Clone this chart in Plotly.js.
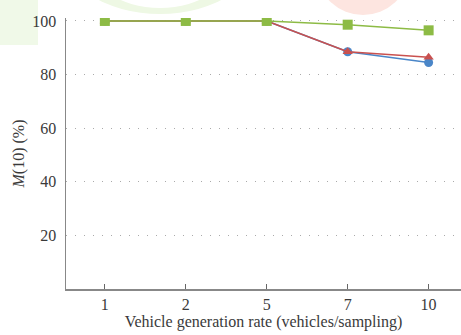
<!DOCTYPE html>
<html><head><meta charset="utf-8">
<script src="https://cdn.plot.ly/plotly-3.0.1.min.js"></script>
<style>html,body{margin:0;padding:0;background:#fff}#chart{width:461px;height:335px}</style>
</head><body><div id="chart"></div>
<script>
const categories = ['1','2','5','7','10'];
const seriesBlue = [100, 100, 100, 88.5, 84.5];
const seriesRed = [100, 100, 100, 88.5, 86.5];
const seriesGreen = [100, 100, 100, 98.6, 96.5];
const yTicks = [20, 40, 60, 80, 100];

const fam = 'Liberation Serif, Times New Roman, serif';
const txt = '#3a3a3a';
const traces = [
  {x: categories, y: seriesBlue, type: 'scatter', mode: 'lines+markers',
   line: {color: '#4a86c8', width: 1.5}, marker: {symbol: 'circle', size: 9, color: '#4a86c8'}},
  {x: categories, y: seriesRed, type: 'scatter', mode: 'lines+markers',
   line: {color: '#c9514f', width: 1.5}, marker: {symbol: 'triangle-up', size: 9, color: '#c9514f'}},
  {x: categories, y: seriesGreen, type: 'scatter', mode: 'lines+markers',
   line: {color: '#8dbb45', width: 1.5}, marker: {symbol: 'square', size: 10, color: '#8dbb45'}}
];
// faint background watermark blobs (pixel -> paper conversion)
const px = x => (x - 66) / 395, py = y => (289 - y) / 271;
const layout = {
  width: 461, height: 335,
  margin: {l: 66, r: 0, t: 18, b: 46},
  paper_bgcolor: '#fff', plot_bgcolor: 'rgba(0,0,0,0)',
  showlegend: false,
  font: {family: fam, size: 16, color: txt},
  shapes: [
    {type: 'rect', xref: 'paper', yref: 'paper', layer: 'below', x0: px(0), x1: px(38), y0: py(45), y1: py(0),
     fillcolor: '#f0f9e8', line: {width: 0}},
    {type: 'circle', xref: 'paper', yref: 'paper', layer: 'below', x0: px(60), x1: px(260), y0: py(14), y1: py(-120),
     fillcolor: '#eef8e4', line: {width: 0}},
    {type: 'circle', xref: 'paper', yref: 'paper', layer: 'below', x0: px(85), x1: px(235), y0: py(8), y1: py(-100),
     fillcolor: '#ffffff', line: {width: 0}},
    {type: 'circle', xref: 'paper', yref: 'paper', layer: 'below', x0: px(318), x1: px(408), y0: py(15), y1: py(-70),
     fillcolor: '#fde5e0', line: {width: 0}}
  ],
  xaxis: {type: 'category', range: [-0.48, 4.4], showgrid: false, zeroline: false,
    showline: true, linecolor: '#888', linewidth: 1.5,
    ticks: 'inside', ticklen: 5, tickcolor: '#666', tickwidth: 1,
    tickfont: {family: fam, size: 16, color: txt},
    title: {text: 'Vehicle generation rate (vehicles/sampling)', font: {family: fam, size: 16, color: txt}, standoff: 4}},
  yaxis: {range: [0, 101.1], tickvals: yTicks, ticktext: yTicks.map(String),
    showgrid: true, gridcolor: '#aaa', griddash: '1px,8px', gridwidth: 1,
    zeroline: false, showline: true, linecolor: '#888', linewidth: 1.5, ticks: '',
    ticklabelstandoff: 5,
    tickfont: {family: fam, size: 16, color: txt},
    title: {text: '<i>M</i>(10) (%)', font: {family: fam, size: 16, color: txt}, standoff: 3}}
};
Plotly.newPlot('chart', traces, layout, {displayModeBar: false, staticPlot: true});
</script></body></html>
